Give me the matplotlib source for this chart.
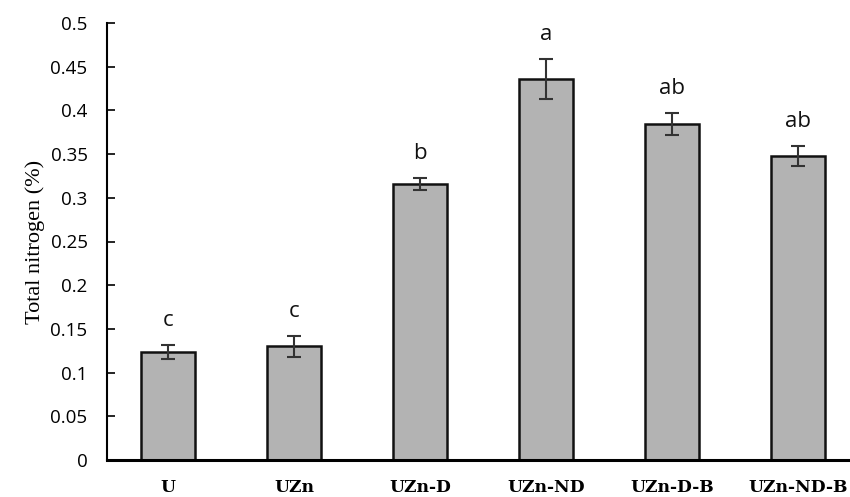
import matplotlib
matplotlib.use("Agg")
import matplotlib.pyplot as plt

categories = ["U", "UZn", "UZn-D", "UZn-ND", "UZn-D-B", "UZn-ND-B"]
values = [0.124, 0.130, 0.316, 0.436, 0.384, 0.348]
errors = [0.008, 0.012, 0.007, 0.023, 0.0125, 0.0115]
letters = ["c", "c", "b", "a", "ab", "ab"]
yticks = [0, 0.05, 0.1, 0.15, 0.2, 0.25, 0.3, 0.35, 0.4, 0.45, 0.5]
ytick_labels = ["0", "0.05", "0.1", "0.15", "0.2", "0.25", "0.3", "0.35", "0.4", "0.45", "0.5"]

fig = plt.figure(figsize=(8.5, 4.97), dpi=100)
ax = fig.add_axes([107/850, 1-460/497, 1-107/850, (460-23)/497])

x = list(range(len(categories)))
ax.bar(x, values, width=0.43, color="#b3b3b3", edgecolor="#111111", linewidth=1.8, zorder=2)
ax.errorbar(x, values, yerr=errors, fmt="none", ecolor="#333333", elinewidth=1.5,
            capsize=5, capthick=1.5, zorder=3)
for xi, v, e, l in zip(x, values, errors, letters):
    ax.text(xi, v + e + 0.028, l, ha="center", va="center", fontsize=16,
            family="Open Sans", color="#111111")

ax.set_xlim(-0.484, 5.413)
ax.set_ylim(0, 0.5)
ax.set_yticks(yticks)
ax.set_yticklabels(ytick_labels, family="Open Sans", fontsize=13.5)
ax.set_xticks(x)
ax.set_xticklabels(categories, family="DejaVu Serif", fontweight="bold", fontsize=12.3)
ax.tick_params(axis="x", length=0, pad=14)
ax.tick_params(axis="y", direction="in", length=6, width=1.2, pad=14)
ax.set_ylabel("Total nitrogen (%)", family="Liberation Serif", fontsize=16, labelpad=4)
ax.spines["top"].set_visible(False)
ax.spines["right"].set_visible(False)
ax.spines["left"].set_linewidth(1.5)
ax.spines["bottom"].set_linewidth(2.2)

fig.savefig("out.png", dpi=100)
